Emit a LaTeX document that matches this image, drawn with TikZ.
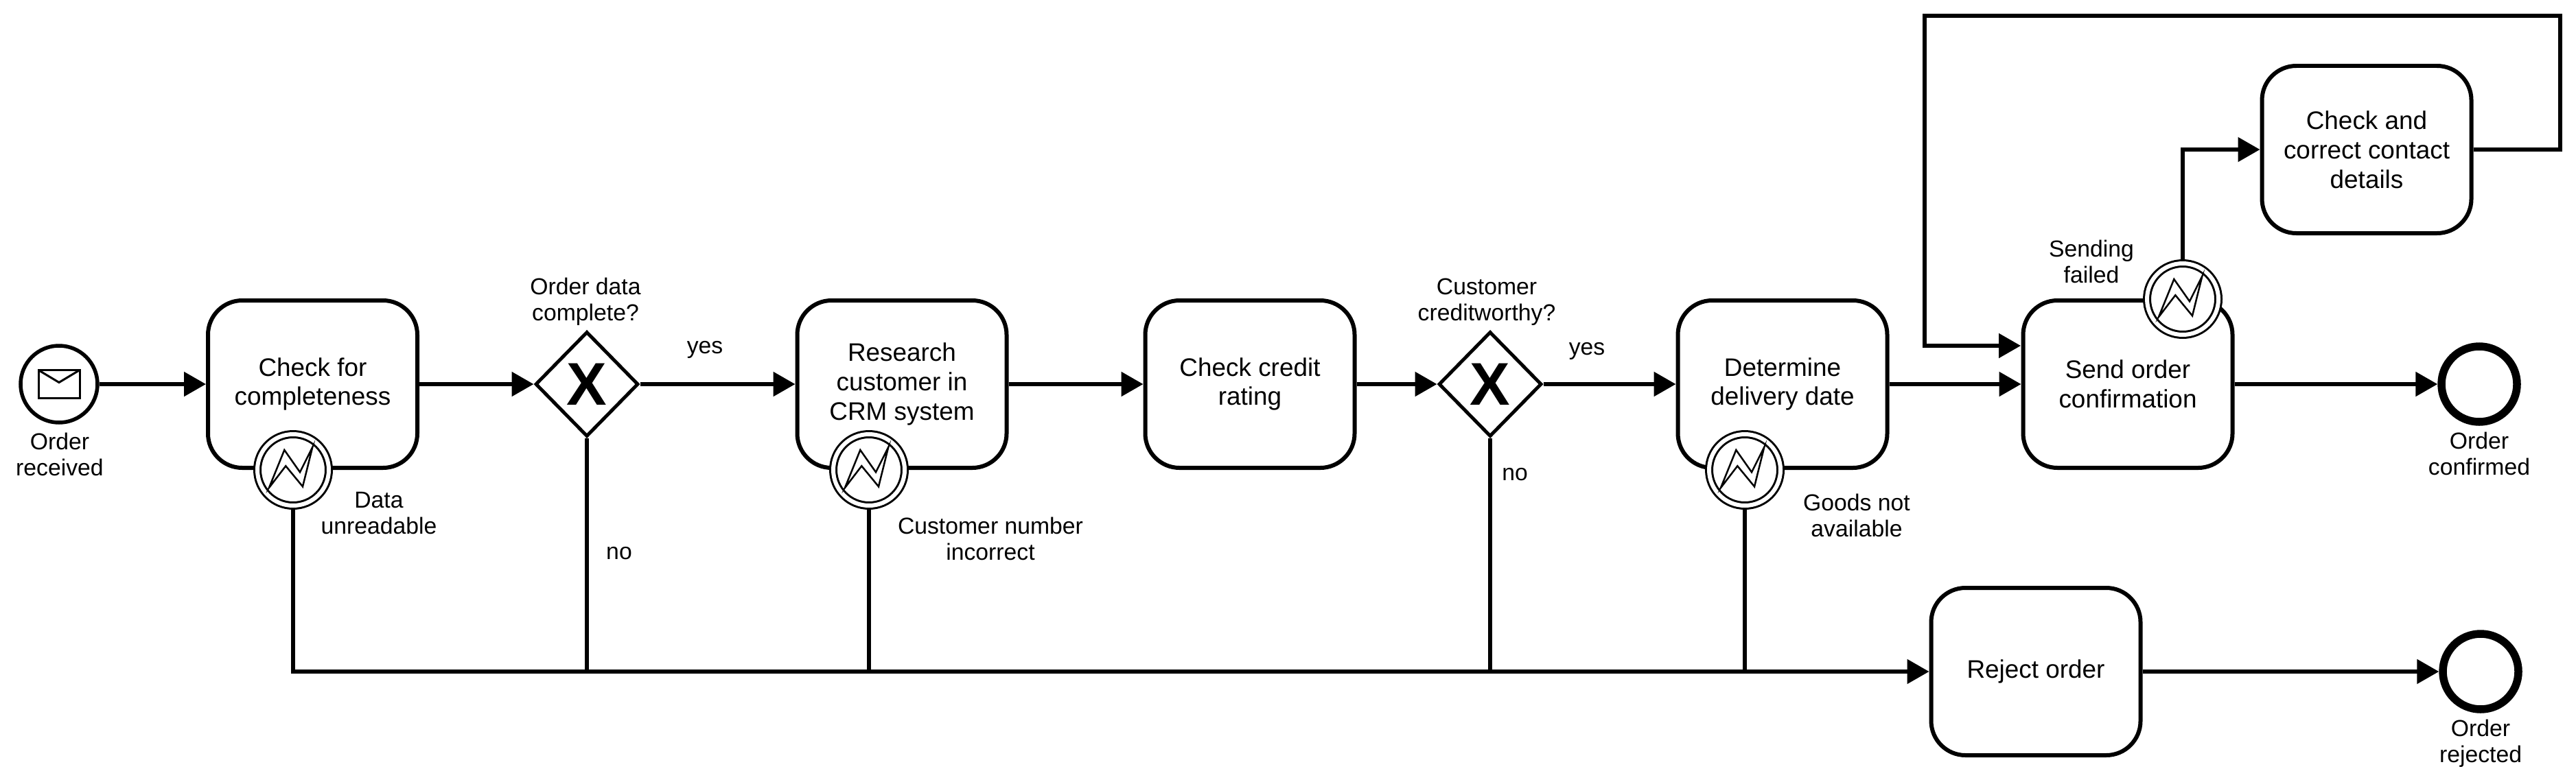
\documentclass[tikz,border=0pt]{standalone}
\usepackage{fontspec}
\setmainfont{Liberation Sans}
\usetikzlibrary{shapes.geometric, arrows.meta}

\tikzset{
  task/.style={draw,rectangle,rounded corners=0.5cm,line width=0.06cm,minimum width=3.05cm,minimum height=2.44cm,align=center,inner sep=0,font=\fontsize{10.5}{12.2}\selectfont},
  gateway/.style={draw,diamond,line width=0.05cm,minimum width=1.5cm,minimum height=1.53cm,inner sep=0,font=\fontsize{25}{25}\selectfont\bfseries},
  startevent/.style={draw,circle,line width=0.055cm,minimum size=1.12cm,inner sep=0},
  endevent/.style={draw,circle,line width=0.115cm,minimum size=1.1cm,inner sep=0},
  errorevent/.style={draw,circle,fill=white,line width=0.03cm,double,double distance=0.06cm,minimum size=1.04cm,inner sep=0,outer sep=0.06cm},
  lbl/.style={align=center,inner sep=0,font=\fontsize{9.6}{10.8}\selectfont},
  flow/.style={line width=0.055cm,-{Triangle[length=0.32cm,width=0.35cm]}},
  plainflow/.style={line width=0.055cm},
  flash/.pic={
    \draw[line width=0.025cm,fill=white] (-0.35,-0.26) -- (-0.127,0.29) -- (0.10,-0.033) -- (0.283,0.333) -- (0.14,-0.243) -- (-0.107,0.057) -- cycle;
  },
  envelope/.pic={
    \draw[line width=0.03cm] (-0.30,-0.205) rectangle (0.30,0.205);
    \draw[line width=0.03cm] (-0.30,0.205) -- (0,0.025) -- (0.30,0.205);
  }
}

\begin{document}
\begin{tikzpicture}
    \useasboundingbox (0,0) rectangle (37.53,11.39);

    % events
    \node[startevent] (received) at (0.86,5.79) {};
    \pic at (received) {envelope};
    \node[endevent] (confirmed) at (36.12,5.79) {};
    \node[endevent] (rejected) at (36.14,1.60) {};

    % tasks
    \node[task] (completeness) at (4.555,5.79) {Check for\\completeness};
    \node[task] (research) at (13.14,5.79) {Research\\customer in\\CRM system};
    \node[task] (credit) at (18.21,5.79) {Check credit\\rating};
    \node[task] (delivery) at (25.97,5.79) {Determine\\delivery date};
    \node[task] (send) at (31.00,5.79) {Send order\\confirmation};
    \node[task] (contact) at (34.48,9.21) {Check and\\correct contact\\details};
    \node[task] (reject) at (29.66,1.60) {Reject order};

    % gateways
    \node[gateway] (complete) at (8.55,5.79) {X};
    \node[gateway] (worthy) at (21.71,5.79) {X};

    % boundary events
    \node[errorevent] (unreadable) at (4.27,4.54) {};
    \pic at (unreadable) {flash};
    \node[errorevent] (incorrect) at (12.66,4.54) {};
    \pic at (incorrect) {flash};
    \node[errorevent] (unavailable) at (25.42,4.54) {};
    \pic at (unavailable) {flash};
    \node[errorevent] (failed) at (31.80,7.03) {};
    \pic at (failed) {flash};

    % free corners of the lines
    \coordinate (loopA) at (37.30,11.16);
    \coordinate (loopB) at (28.04,11.16);
    \coordinate (sendIn) at (29.44,6.35);
    \coordinate (joinA) at (complete.south |- reject.west);
    \coordinate (joinB) at (incorrect.south |- reject.west);
    \coordinate (joinC) at (worthy.south |- reject.west);
    \coordinate (joinD) at (unavailable.south |- reject.west);

    % sequence flows
    \draw[flow] (received) -- (completeness);
    \draw[flow] (completeness) -- (complete);
    \draw[flow] (complete) -- (research);
    \draw[flow] (research) -- (credit);
    \draw[flow] (credit) -- (worthy);
    \draw[flow] (worthy) -- (delivery);
    \draw[flow] (delivery) -- (send);
    \draw[flow] (send) -- (confirmed);
    \draw[flow] (reject) -- (rejected);
    \draw[flow] (failed.north) |- (contact.west);
    \draw[flow] (contact.east) -| (loopA) -- (loopB) |- (sendIn);
    \draw[flow] (unreadable.south) |- (reject.west);
    \draw[plainflow] (complete.south) -- (joinA);
    \draw[plainflow] (incorrect.south) -- (joinB);
    \draw[plainflow] (worthy.south) -- (joinC);
    \draw[plainflow] (unavailable.south) -- (joinD);

    % labels
    \node[lbl] (lblReceived) at (0.87,4.77) {Order\\received};
    \node[lbl] (lblUnreadable) at (5.52,3.91) {Data\\unreadable};
    \node[lbl] (lblComplete) at (8.53,6.99) {Order data\\complete?};
    \node[lbl] (lblYesA) at (10.27,6.29) {yes};
    \node[lbl] (lblNoA) at (9.02,3.32) {no};
    \node[lbl] (lblIncorrect) at (14.43,3.54) {Customer number\\incorrect};
    \node[lbl] (lblWorthy) at (21.66,6.99) {Customer\\creditworthy?};
    \node[lbl] (lblYesB) at (23.12,6.27) {yes};
    \node[lbl] (lblNoB) at (22.07,4.47) {no};
    \node[lbl] (lblUnavailable) at (27.05,3.88) {Goods not\\available};
    \node[lbl] (lblFailed) at (30.47,7.58) {Sending\\failed};
    \node[lbl] (lblConfirmed) at (36.12,4.78) {Order\\confirmed};
    \node[lbl] (lblRejected) at (36.14,0.55) {Order\\rejected};
\end{tikzpicture}
\end{document}
